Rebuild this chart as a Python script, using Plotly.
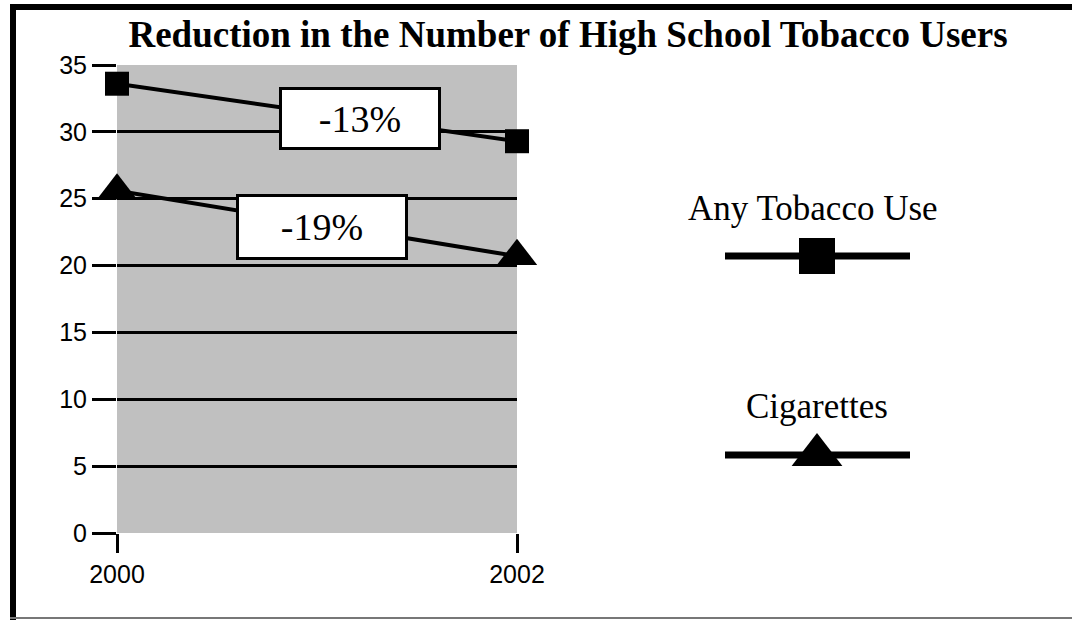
import plotly.graph_objects as go

# ---- data ----
years = [2000, 2002]
any_tobacco = [33.6, 29.3]
cigarettes = [25.6, 20.7]
series_names = ["Any Tobacco Use", "Cigarettes"]
change_labels = ["-13%", "-19%"]
y_ticks = [0, 5, 10, 15, 20, 25, 30, 35]
x_ticks = [2000, 2002]
title_text = "Reduction in the Number of High School Tobacco Users"

W, H = 1072, 620
ML, MR, MT, MB = 117, 40, 65, 87
PW = W - ML - MR
PH = H - MT - MB


def px(x):
    return (x - ML) / PW


def py(y):
    return (H - MB - y) / PH


SERIF = "Liberation Serif"
SANS = "Liberation Sans"

fig = go.Figure()

# data traces
fig.add_trace(go.Scatter(
    x=years, y=any_tobacco, mode="lines+markers", name=series_names[0],
    line=dict(color="black", width=4),
    marker=dict(symbol="square", size=24, color="black"),
    cliponaxis=False, showlegend=False))
fig.add_trace(go.Scatter(
    x=years, y=cigarettes, mode="lines+markers", name=series_names[1],
    line=dict(color="black", width=4),
    marker=dict(symbol="triangle-up", size=35, color="black"),
    cliponaxis=False, showlegend=False))

# custom legend samples on a helper axis (pixel-like units)
leg_y = [256, 455]
leg_sym = ["square", "triangle-up"]
leg_size = [36, 44]
for i in range(2):
    fig.add_trace(go.Scatter(
        x=[725, 910], y=[leg_y[i]] * 2, mode="lines",
        line=dict(color="black", width=7),
        xaxis="x2", yaxis="y2", cliponaxis=False, showlegend=False,
        hoverinfo="skip"))
    fig.add_trace(go.Scatter(
        x=[817], y=[leg_y[i]], mode="markers",
        marker=dict(symbol=leg_sym[i], size=leg_size[i], color="#000000",
                    opacity=1, line=dict(width=0, color="#000000")),
        xaxis="x2", yaxis="y2", cliponaxis=False, showlegend=False,
        hoverinfo="skip"))

annotations = [
    dict(x=2001.215, y=31.0, xref="x", yref="y", text=change_labels[0],
         showarrow=False, bgcolor="white", bordercolor="black", borderwidth=3,
         borderpad=0, width=156, height=57,
         font=dict(family=SERIF, size=38, color="black")),
    dict(x=2001.025, y=22.9, xref="x", yref="y", text=change_labels[1],
         showarrow=False, bgcolor="white", bordercolor="black", borderwidth=3,
         borderpad=0, width=166, height=60,
         font=dict(family=SERIF, size=38, color="black")),
    dict(x=813, y=208, xref="x2", yref="y2", text=series_names[0],
         showarrow=False, font=dict(family=SERIF, size=35, color="black")),
    dict(x=817, y=406, xref="x2", yref="y2", text=series_names[1],
         showarrow=False, font=dict(family=SERIF, size=35, color="black")),
]

shapes = [
    # gray plot background
    dict(type="rect", xref="x domain", yref="y domain", x0=0, x1=1, y0=0, y1=1,
         fillcolor="#c0c0c0", line=dict(width=0), layer="below"),
    # frame
    dict(type="line", xref="paper", yref="paper", x0=px(10), x1=px(1072),
         y0=py(7), y1=py(7), line=dict(color="black", width=6)),
    dict(type="line", xref="paper", yref="paper", x0=px(13), x1=px(13),
         y0=py(4), y1=py(620), line=dict(color="black", width=6)),
    dict(type="line", xref="paper", yref="paper", x0=px(10), x1=px(1072),
         y0=py(618), y1=py(618), line=dict(color="#777777", width=2)),
]

fig.update_layout(
    width=W, height=H,
    margin=dict(l=ML, r=MR, t=MT, b=MB),
    paper_bgcolor="white", plot_bgcolor="rgba(0,0,0,0)",
    title=dict(text=title_text, x=568 / W, xanchor="center",
               y=1 - 34 / H, yanchor="middle", yref="container",
               font=dict(family=SERIF, size=37, color="black", weight="bold")),
    xaxis=dict(domain=[0, 400 / PW], range=[2000, 2002], tickvals=x_ticks,
               ticktext=[str(v) for v in x_ticks], showgrid=False,
               zeroline=False, showline=False, ticks="outside", ticklen=19,
               tickwidth=3, tickcolor="black",
               tickfont=dict(family=SANS, size=25, color="black")),
    yaxis=dict(range=[0, 35], tickvals=y_ticks, showgrid=True,
               gridcolor="black", gridwidth=3, zeroline=False, showline=False,
               ticks="outside", ticklen=24, tickwidth=3, tickcolor="black",
               tickfont=dict(family=SANS, size=25, color="black")),
    xaxis2=dict(domain=[400 / PW, 1], range=[517, 1032], visible=False,
                anchor="y2"),
    yaxis2=dict(domain=[0, 1], range=[533, 65], visible=False, anchor="x2"),
    annotations=annotations,
    shapes=shapes,
)

fig.write_html("out.html")
